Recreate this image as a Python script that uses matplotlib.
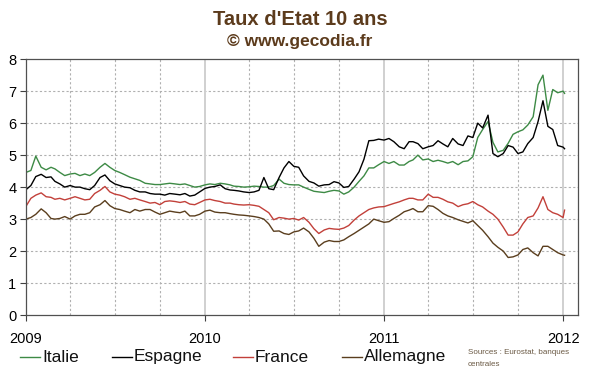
import pandas as pd
import matplotlib
matplotlib.use("Agg")
import matplotlib.pyplot as plt
import matplotlib.dates as mdates
from matplotlib.lines import Line2D

plt.rcParams["font.family"] = ["Liberation Sans", "DejaVu Sans"]

# dates: 1st, 11th, 21st of each month, 2009-2011, then early Jan 2012
dates = [pd.Timestamp(y, m, d) for y in (2009, 2010, 2011) for m in range(1, 13) for d in (1, 11, 21)]
dates += [pd.Timestamp(2012, 1, 1), pd.Timestamp(2012, 1, 4)]

italie = [
    4.46, 4.52, 4.97, 4.62, 4.54, 4.62, 4.57, 4.46, 4.36, 4.41, 4.43, 4.36,
    4.41, 4.36, 4.46, 4.62, 4.74, 4.62, 4.52, 4.46, 4.39, 4.31, 4.26, 4.21,
    4.12, 4.10, 4.08, 4.08, 4.10, 4.12, 4.10, 4.08, 4.10, 4.05, 4.00, 4.02,
    4.07, 4.10, 4.08, 4.12, 4.10, 4.07, 4.03, 4.02, 4.00, 4.01, 4.03, 4.02,
    4.00, 4.00, 4.05, 4.25, 4.12, 4.08, 4.07, 4.07, 4.00, 3.93, 3.87, 3.85,
    3.83, 3.87, 3.90, 3.88, 3.78, 3.85, 4.00, 4.18, 4.35, 4.60, 4.60, 4.70,
    4.80, 4.74, 4.80, 4.69, 4.69, 4.80, 4.85, 5.00, 4.85, 4.88, 4.80, 4.84,
    4.80, 4.75, 4.80, 4.70, 4.80, 4.82, 4.95, 5.55, 5.80, 6.05, 5.40, 5.10,
    5.15, 5.37, 5.65, 5.73, 5.79, 5.94, 6.20, 7.20, 7.50, 6.40, 7.05, 6.95,
    7.00, 6.93,
]
espagne = [
    3.92, 4.05, 4.33, 4.40, 4.30, 4.32, 4.18, 4.10, 4.00, 4.05, 4.00, 4.00,
    3.95, 3.92, 4.05, 4.30, 4.38, 4.20, 4.10, 4.05, 4.00, 3.98, 3.90, 3.85,
    3.85, 3.80, 3.78, 3.78, 3.75, 3.80, 3.78, 3.76, 3.80, 3.72, 3.75, 3.85,
    3.96, 4.00, 4.02, 4.07, 3.95, 3.91, 3.90, 3.88, 3.85, 3.83, 3.85, 3.90,
    4.30, 3.95, 3.92, 4.30, 4.60, 4.80, 4.65, 4.62, 4.35, 4.18, 4.13, 4.03,
    4.07, 4.08, 4.17, 4.13, 3.99, 4.02, 4.25, 4.48, 4.87, 5.45, 5.46, 5.50,
    5.47, 5.52, 5.42, 5.26, 5.20, 5.42, 5.42, 5.36, 5.20, 5.26, 5.30, 5.45,
    5.35, 5.26, 5.52, 5.35, 5.30, 5.60, 5.55, 6.00, 5.85, 6.25, 5.05, 4.95,
    5.05, 5.30, 5.25, 5.05, 5.10, 5.36, 5.55, 6.05, 6.70, 5.90, 5.80, 5.30,
    5.25, 5.20,
]
france = [
    3.40, 3.65, 3.75, 3.82, 3.70, 3.68, 3.62, 3.65, 3.60, 3.65, 3.70, 3.65,
    3.60, 3.62, 3.80, 3.90, 4.02, 3.85, 3.78, 3.75, 3.70, 3.62, 3.65, 3.60,
    3.55, 3.50, 3.52, 3.45, 3.55, 3.57, 3.55, 3.52, 3.55, 3.47, 3.45, 3.52,
    3.60, 3.62, 3.58, 3.55, 3.50, 3.50, 3.47, 3.45, 3.44, 3.45, 3.43, 3.40,
    3.30, 3.20, 2.98, 3.05, 3.03, 3.00, 3.02, 2.97, 3.05, 2.90, 2.70, 2.55,
    2.66, 2.71, 2.69, 2.68, 2.72, 2.80, 2.97, 3.10, 3.20, 3.30, 3.35, 3.38,
    3.39, 3.44, 3.49, 3.54, 3.60, 3.65, 3.65, 3.60, 3.60, 3.78, 3.68, 3.68,
    3.62, 3.54, 3.50, 3.39, 3.45, 3.48, 3.55, 3.45, 3.38, 3.25, 3.15, 3.00,
    2.75, 2.50, 2.50, 2.60, 2.85, 3.05, 3.10, 3.35, 3.70, 3.30, 3.20, 3.15,
    3.05, 3.28,
]
allemagne = [
    3.00, 3.05, 3.15, 3.32, 3.20, 3.02, 3.00, 3.02, 3.08, 3.00, 3.10, 3.15,
    3.15, 3.20, 3.38, 3.45, 3.58, 3.42, 3.33, 3.30, 3.25, 3.20, 3.30, 3.25,
    3.30, 3.30, 3.22, 3.15, 3.20, 3.25, 3.22, 3.20, 3.25, 3.10, 3.10, 3.15,
    3.25, 3.28, 3.22, 3.20, 3.20, 3.17, 3.15, 3.13, 3.12, 3.10, 3.08, 3.05,
    3.00, 2.85, 2.62, 2.63, 2.55, 2.52, 2.60, 2.63, 2.72, 2.60, 2.40, 2.15,
    2.28, 2.33, 2.30, 2.30, 2.35, 2.45, 2.55, 2.65, 2.75, 2.85, 3.00, 2.95,
    2.90, 2.92, 3.02, 3.12, 3.23, 3.28, 3.33, 3.23, 3.23, 3.42, 3.40, 3.30,
    3.18, 3.10, 3.05, 2.98, 2.93, 2.88, 2.95, 2.80, 2.65, 2.45, 2.25, 2.12,
    2.00, 1.80, 1.82, 1.88, 2.05, 2.10, 1.95, 1.85, 2.15, 2.15, 2.05, 1.95,
    1.88, 1.87,
]

names = ["Italie", "Espagne", "France", "Allemagne"]
colors = ["#3d8a45", "#000000", "#c2403a", "#5a3e1e"]
series = [italie, espagne, france, allemagne]

fig = plt.figure(figsize=(6, 3.72), dpi=100)
ax = fig.add_axes([0.0433, 0.153, 0.9197, 0.688])

# grid
for y in range(1, 8):
    ax.axhline(y, color="#b0b0b0", lw=0.8, ls=(0, (2, 2)), zorder=0)
for yr in (2009, 2010, 2011):
    for m in (4, 7, 10):
        ax.axvline(pd.Timestamp(yr, m, 1), color="#b0b0b0", lw=0.8, ls=(0, (2, 2)), zorder=0)
for yr in (2010, 2011, 2012):
    ax.axvline(pd.Timestamp(yr, 1, 1), color="#d0d0d0", lw=1.4, zorder=0)

for vals, c in zip(series, colors):
    ax.plot(dates, vals, color=c, lw=1.0)

ax.set_xlim(pd.Timestamp(2009, 1, 1), pd.Timestamp(2012, 1, 31))
ax.set_ylim(0, 8)
ax.set_yticks(range(0, 9))
ax.xaxis.set_major_locator(mdates.YearLocator())
ax.xaxis.set_major_formatter(mdates.DateFormatter("%Y"))
ax.tick_params(axis="both", labelsize=10.5, length=4, width=0.8, color="#404040", pad=3)
ax.tick_params(axis="x", pad=8)
for s in ax.spines.values():
    s.set_color("#505050")
    s.set_linewidth(0.9)

fig.text(0.5, 0.947, "Taux d'Etat 10 ans", ha="center", va="center",
         fontsize=14.5, fontweight="bold", color="#5c3b1c")
fig.text(0.5, 0.888, "\u00a9 www.gecodia.fr", ha="center", va="center",
         fontsize=12.5, fontweight="bold", color="#5c3b1c")

# legend drawn by hand to match spacing
leg_x = [20, 112, 233, 342]
ly = 1 - 357 / 372
for x0, name, c in zip(leg_x, names, colors):
    fig.add_artist(Line2D([x0 / 600, (x0 + 20) / 600], [ly, ly], color=c, lw=1.0,
                          transform=fig.transFigure))
    fig.text((x0 + 22) / 600, ly, name, ha="left", va="center", fontsize=12.5, color="#111111")

fig.text(468 / 600, 1 - 353 / 372, "Sources : Eurostat, banques", ha="left", va="center",
         fontsize=5.8, color="#6b5a45")
fig.text(468 / 600, 1 - 364 / 372, "centrales", ha="left", va="center",
         fontsize=5.8, color="#6b5a45")

fig.savefig("out.png", dpi=100, facecolor="white")
